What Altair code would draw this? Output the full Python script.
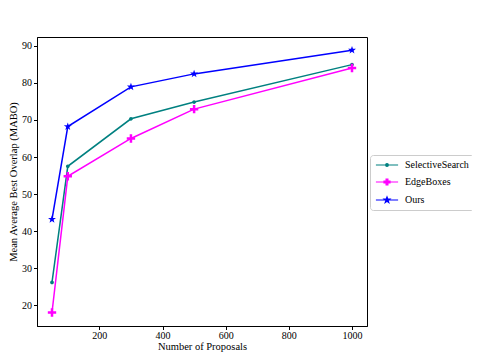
import altair as alt
import pandas as pd

proposals = [50, 100, 300, 500, 1000]
selective = [26.2, 57.5, 70.3, 74.8, 84.9]
edgeboxes = [18.1, 54.8, 65.0, 72.9, 84.0]
ours = [43.2, 68.2, 78.9, 82.4, 88.8]
series = ["SelectiveSearch", "EdgeBoxes", "Ours"]
colors = ["#008080", "#ff00ff", "#0000ff"]
x_ticks = [200, 400, 600, 800, 1000]
y_ticks = [20, 30, 40, 50, 60, 70, 80, 90]

rows = []
for name, vals in zip(series, [selective, edgeboxes, ours]):
    for x, y in zip(proposals, vals):
        rows.append({"x": x, "y": y, "method": name})
df = pd.DataFrame(rows)

FONT = "Liberation Serif"

xenc = alt.X("x:Q", scale=alt.Scale(domain=[2.5, 1047.5], nice=False, zero=False),
             axis=alt.Axis(values=x_ticks, format="d", title="Number of Proposals", grid=False,
                           titlePadding=1, labelPadding=1))
yenc = alt.Y("y:Q", scale=alt.Scale(domain=[14.46, 92.34], nice=False, zero=False),
             axis=alt.Axis(values=y_ticks, format="d", title="Mean Average Best Overlap (MABO)", grid=False,
                           titlePadding=3, labelPadding=2))
cscale = alt.Scale(domain=series, range=colors)

star = "M0,-1L0.235,-0.324L0.951,-0.309L0.38,0.124L0.588,0.809L0,0.4L-0.588,0.809L-0.38,0.124L-0.951,-0.309L-0.235,-0.324Z"
plus = "M-0.3,-1H0.3V-0.3H1V0.3H0.3V1H-0.3V0.3H-1V-0.3H-0.3Z"
dot = "M0.45,0A0.45,0.45,0,1,1,-0.45,0A0.45,0.45,0,1,1,0.45,0Z"
marker_paths = [dot, plus, star]
legend_line = "M-3.7,0H3.7"
legend_paths = [legend_line + p for p in marker_paths]

layers = []
for name, col, path in zip(series, colors, marker_paths):
    base = alt.Chart(df).transform_filter(alt.datum.method == name)
    layers.append(base.mark_line(strokeWidth=1.5, color=col).encode(x=xenc, y=yenc))
    layers.append(base.mark_point(filled=True, size=70, opacity=1, shape=path, color=col)
                  .encode(x=xenc, y=yenc))

legend_layer = alt.Chart(df).transform_filter(alt.datum.x == 50).mark_point(
    filled=False, size=36, opacity=1, strokeWidth=1.2
).encode(
    x=alt.value(-300), y=alt.value(-300),
    color=alt.Color("method:N", scale=cscale, title=None,
                    legend=alt.Legend(orient="none", legendX=333, legendY=118, padding=5,
                                      strokeColor="#cccccc", cornerRadius=3, fillColor="white",
                                      labelFont=FONT, labelFontSize=10, labelColor="black",
                                      rowPadding=6, symbolSize=36, symbolStrokeWidth=1.2,
                                      symbolOffset=7, labelOffset=13, labelLimit=200)),
    fill=alt.Fill("method:N", scale=cscale, title=None),
    shape=alt.Shape("method:N", scale=alt.Scale(domain=series, range=legend_paths), title=None),
)
layers.append(legend_layer)

chart = alt.layer(*layers).properties(
    width=330, height=289,
    background="white",
    autosize=alt.AutoSizeParams(type="none"),
    padding={"left": 29, "top": 29, "right": 105, "bottom": 26},
).configure_view(stroke="black", strokeWidth=1).configure_axis(
    labelFont=FONT, titleFont=FONT, labelFontSize=10, titleFontSize=10.5,
    titleFontWeight="normal", labelColor="black", titleColor="black",
    domainColor="black", tickColor="black", tickSize=3.5,
)

chart.save("out.html", embed_options={"renderer": "svg", "actions": False})
